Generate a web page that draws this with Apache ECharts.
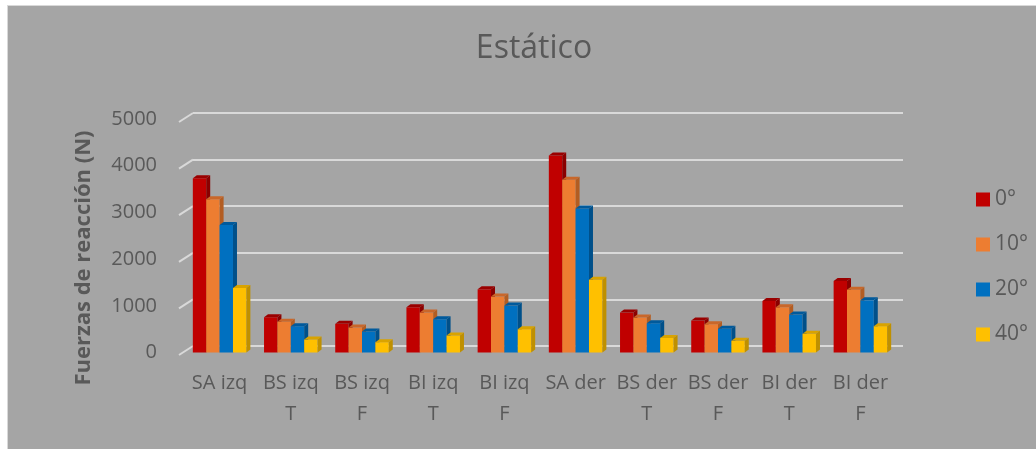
<!DOCTYPE html>
<html>
<head>
<meta charset="utf-8">
<script src="https://cdn.jsdelivr.net/npm/echarts@6/dist/echarts.min.js"></script>
<style>
  html, body { margin: 0; padding: 0; background: #fff; }
  #wrap { position: relative; width: 1036px; height: 449px; }
  #panel {
    position: absolute; left: 7px; top: 5px; right: 0; bottom: 0;
    background: #a5a5a5; border-left: 1px solid #d9d9d9; border-top: 1px solid #d9d9d9;
  }
  #chart { position: absolute; left: 0; top: 0; width: 1036px; height: 449px; }
</style>
</head>
<body>
<div id="wrap">
  <div id="panel"></div>
  <div id="chart"></div>
</div>
<script>
// categorias (eje x)
const categories = ['SA izq', 'BS izq\nT', 'BS izq\nF', 'BI izq\nT', 'BI izq\nF',
  'SA der', 'BS der\nT', 'BS der\nF', 'BI der\nT', 'BI der\nF']
// fuerzas por angulo
const f0 = [3730, 755, 613, 968, 1353, 4217, 855, 684, 1104, 1531]
const f10 = [3280, 660, 534, 855, 1197, 3697, 748, 605, 968, 1346]
const f20 = [2730, 563, 449, 712, 1004, 3084, 627, 506, 812, 1118]
const f40 = [1380, 278, 221, 363, 499, 1560, 313, 249, 399, 563]
const seriesNames = ['0°', '10°', '20°', '40°']
const yTicks = [0, 1000, 2000, 3000, 4000, 5000]

const txt = '#595959'
const font = 'Open Sans'
// front / top / side
const faces = [
  ['#C00000', '#9a0000', '#8a0000'],
  ['#ED7D31', '#c9672a', '#b35d22'],
  ['#0070C0', '#005a9c', '#00508a'],
  ['#FFC000', '#d9a300', '#bf9000']
]

function barRender (k) {
  return function (params, api) {
    const c = api.value(0)
    const v = api.value(1)
    const base = api.coord([c, 0])
    const top = api.coord([c, v])
    const band = api.size([1, 0])[0]
    const w = band * 0.188
    const x0 = base[0] - 2 * w + k * w
    const dx = 4
    const dy = 3
    const col = faces[k]
    return {
      type: 'group',
      children: [
        { type: 'rect', shape: { x: x0, y: top[1], width: w, height: base[1] - top[1] }, style: { fill: col[0] } },
        { type: 'polygon', shape: { points: [[x0, top[1]], [x0 + w, top[1]], [x0 + w + dx, top[1] - dy], [x0 + dx, top[1] - dy]] }, style: { fill: col[1] } },
        { type: 'polygon', shape: { points: [[x0 + w, top[1]], [x0 + w + dx, top[1] - dy], [x0 + w + dx, base[1] - dy], [x0 + w, base[1]]] }, style: { fill: col[2] } }
      ]
    }
  }
}

// diagonales del piso/pared a la izquierda
function stubRender (params, api) {
  const p = api.coord([0, api.value(1)])
  const left = params.coordSys.x
  return {
    type: 'line',
    shape: { x1: left - 14, y1: p[1] + 9, x2: left, y2: p[1] },
    style: { stroke: '#d9d9d9', lineWidth: 2 }
  }
}

const data = [f0, f10, f20, f40]

let myChart = echarts.init(document.getElementById('chart'))
myChart.setOption({
  animation: false,
  backgroundColor: 'transparent',
  title: {
    text: 'Estático',
    left: 529,
    top: 28,
    textAlign: 'center',
    textStyle: { fontFamily: font, fontSize: 32, fontWeight: 'normal', color: txt }
  },
  legend: {
    orient: 'vertical',
    left: 971,
    top: 184,
    itemWidth: 14,
    itemHeight: 14,
    itemGap: 24,
    icon: 'rect',
    data: seriesNames,
    textStyle: { fontFamily: font, fontSize: 21, color: txt }
  },
  graphic: [{
    type: 'text',
    x: 84,
    y: 258,
    rotation: Math.PI / 2,
    style: {
      text: 'Fuerzas de reacción (N)',
      font: 'bold 22px "Open Sans"',
      fill: txt,
      align: 'center',
      verticalAlign: 'middle'
    }
  }],
  grid: [
    { left: 193, right: 133, top: 113, bottom: 103 },
    { left: 184, right: 140, top: 119, bottom: 96.5 }
  ],
  xAxis: [
    { type: 'category', gridIndex: 0, data: categories, show: false },
    {
      type: 'category',
      gridIndex: 1,
      data: categories,
      axisLine: { show: false },
      axisTick: { show: false },
      axisLabel: { interval: 0, margin: 15, lineHeight: 31, fontFamily: font, fontSize: 20, color: txt }
    }
  ],
  yAxis: [
    {
      type: 'value',
      gridIndex: 0,
      min: 0,
      max: 5000,
      interval: 1000,
      axisLabel: { show: false },
      axisLine: { show: false },
      axisTick: { show: false },
      splitLine: { lineStyle: { color: '#d9d9d9', width: 2 } }
    },
    {
      type: 'value',
      gridIndex: 1,
      min: 0,
      max: 5000,
      interval: 1000,
      axisLine: { show: false },
      axisTick: { show: false },
      splitLine: { show: false },
      axisLabel: {
        margin: 27,
        padding: [6, 0, 0, 0],
        fontFamily: font,
        fontSize: 20,
        color: txt,
        formatter: v => String(v)
      }
    }
  ],
  series: [
    {
      type: 'custom',
      xAxisIndex: 0,
      yAxisIndex: 0,
      silent: true,
      renderItem: stubRender,
      data: yTicks.map(v => [0, v])
    }
  ].concat(data.map((arr, k) => ({
    name: seriesNames[k],
    type: 'custom',
    xAxisIndex: 1,
    yAxisIndex: 1,
    itemStyle: { color: faces[k][0] },
    renderItem: barRender(k),
    encode: { x: 0, y: 1 },
    data: arr.map((v, i) => [i, v])
  })))
})
</script>
</body>
</html>
